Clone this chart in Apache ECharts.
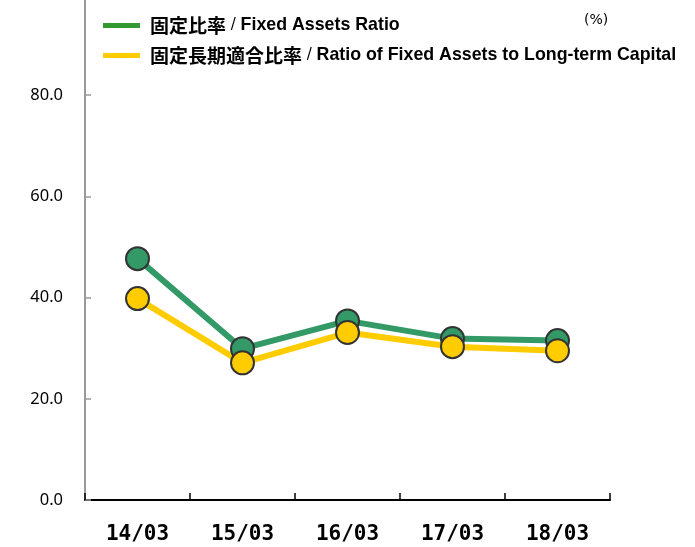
<!DOCTYPE html>
<html><head><meta charset="utf-8">
<script src="https://cdn.jsdelivr.net/npm/echarts@6/dist/echarts.min.js"></script>
<style>html,body{margin:0;padding:0;background:#fff}#c{width:695px;height:547px}</style>
</head><body><div id="c"></div>
<script>
var categories = ['14/03', '15/03', '16/03', '17/03', '18/03'];
var fixedAssetsRatio = [47.7, 29.9, 35.4, 31.9, 31.5];
var longTermRatio = [39.8, 27.1, 33.1, 30.3, 29.5];
var seriesNames = ['固定比率 / Fixed Assets Ratio', '固定長期適合比率 / Ratio of Fixed Assets to Long-term Capital'];
var chart = echarts.init(document.getElementById('c'));
function legendFmt(name) {
  var p = name.split(' / ');
  return '{j|' + p[0] + '}{s| / }{e|' + p[1] + '}';
}
chart.setOption({
  animation: false,
  grid: { left: 85, right: 85, top: -6, bottom: 47, outerBoundsMode: 'none', containLabel: false },
  legend: {
    orient: 'vertical', left: 103, top: 16, itemGap: 11, padding: 0,
    itemWidth: 37, itemHeight: 5, icon: 'rect',
    data: [
      { name: seriesNames[0], itemStyle: { color: '#339933', borderWidth: 0 } },
      { name: seriesNames[1], itemStyle: { color: '#ffcc00', borderWidth: 0 } }
    ],
    formatter: legendFmt,
    textStyle: {
      padding: [0, 0, 0, 5],
      rich: {
        j: { fontFamily: 'Noto Sans CJK JP', fontWeight: 'bold', fontSize: 19, color: '#000', lineHeight: 21 },
        s: { fontFamily: 'DejaVu Sans', fontSize: 15, color: '#000', lineHeight: 21 },
        e: { fontFamily: 'Liberation Sans', fontWeight: 'bold', fontSize: 17.8, color: '#000', lineHeight: 21 }
      }
    }
  },
  graphic: [{ type: 'text', left: 584, top: 13, style: { text: '(%)', font: '14px DejaVu Sans', fill: '#000' } }],
  xAxis: {
    type: 'category', data: categories, boundaryGap: true,
    axisLine: { lineStyle: { color: '#000', width: 2 } },
    axisTick: { show: true, inside: true, length: 7, lineStyle: { color: '#000', width: 1.5 } },
    axisLabel: { margin: 24, fontFamily: 'DejaVu Sans Mono', fontWeight: 'bold', fontSize: 21, color: '#000' }
  },
  yAxis: {
    type: 'value', min: 0, max: 100, interval: 20,
    axisLine: { show: true, lineStyle: { color: '#999', width: 2 } },
    axisTick: { show: true, inside: true, length: 6, lineStyle: { color: '#999', width: 1.5 } },
    splitLine: { show: false },
    axisLabel: { margin: 22, showMaxLabel: true, fontFamily: 'Noto Sans', fontSize: 16.5, color: '#000', formatter: function (v) { return v.toFixed(1); } }
  },
  series: [
    { name: seriesNames[0], type: 'line', data: fixedAssetsRatio, symbol: 'circle', symbolSize: 23,
      lineStyle: { color: '#339966', width: 6 },
      itemStyle: { color: '#339966', borderColor: '#333', borderWidth: 2 } },
    { name: seriesNames[1], type: 'line', data: longTermRatio, symbol: 'circle', symbolSize: 23,
      lineStyle: { color: '#ffcc00', width: 6 },
      itemStyle: { color: '#ffcc00', borderColor: '#333', borderWidth: 2 } }
  ]
});
</script></body></html>
